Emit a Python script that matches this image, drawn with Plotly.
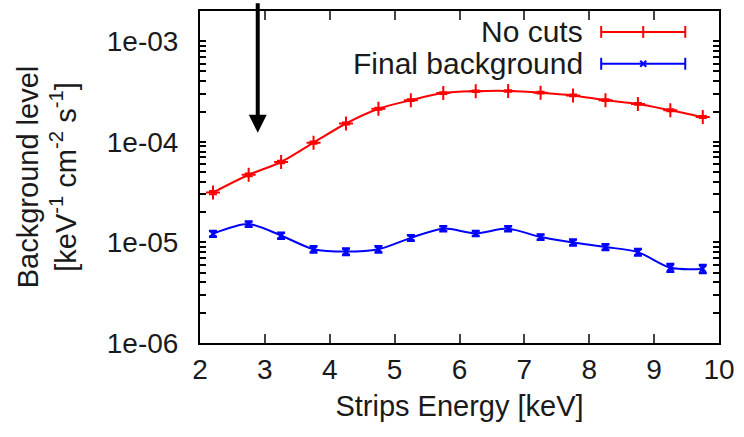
import plotly.graph_objects as go
import math

# ---------------- data ----------------
energy = [2.2, 2.75, 3.25, 3.75, 4.25, 4.75, 5.25, 5.75, 6.25, 6.75, 7.25, 7.75, 8.25, 8.75, 9.25, 9.75]
no_cuts = [3.13e-5, 4.7e-5, 6.3e-5, 9.8e-5, 1.52e-4, 2.13e-4, 2.59e-4, 3.05e-4, 3.18e-4, 3.2e-4,
           3.08e-4, 2.89e-4, 2.59e-4, 2.38e-4, 2.06e-4, 1.76e-4]
no_cuts_err = [1.2e-6, 1.5e-6, 1.8e-6, 2.5e-6, 3.5e-6, 4.5e-6, 5.0e-6, 6.0e-6, 6.0e-6, 6.0e-6,
               6.0e-6, 5.5e-6, 5.0e-6, 5.0e-6, 4.5e-6, 4.0e-6]
final_bg = [1.22e-5, 1.52e-5, 1.17e-5, 8.55e-6, 8.1e-6, 8.55e-6, 1.11e-5, 1.37e-5, 1.23e-5, 1.37e-5,
            1.13e-5, 1.0e-5, 9.0e-6, 8.0e-6, 5.6e-6, 5.45e-6]
final_bg_err = [0.8e-6, 0.9e-6, 0.8e-6, 0.6e-6, 0.6e-6, 0.6e-6, 0.7e-6, 0.8e-6, 0.7e-6, 0.8e-6,
                0.7e-6, 0.7e-6, 0.6e-6, 0.6e-6, 0.5e-6, 0.5e-6]

series_names = ["No cuts", "Final background"]
y_decades = [-6, -5, -4, -3]
y_decade_text = ["1e-06", "1e-05", "1e-04", "1e-03"]
x_tickvals = [2, 3, 4, 5, 6, 7, 8, 9, 10]

# all y ticks (decades labelled, 2..9 sub-ticks unlabelled)
y_tickvals, y_ticktext = [], []
for e, lab in zip(y_decades, y_decade_text):
    for m in range(1, 10):
        v = m * 10.0 ** e
        if v > 2.0e-3:
            break
        y_tickvals.append(v)
        y_ticktext.append(lab if m == 1 else "")

RED = "#ff0000"
BLUE = "#0000ff"
FONT = "Liberation Sans, Arial, sans-serif"
TXT = "#1a1a1a"
Y_RANGE = [-6, -2.70]

fig = go.Figure()
fig.add_trace(go.Scatter(
    x=energy, y=no_cuts, mode="lines+markers", name=series_names[0],
    line=dict(color=RED, width=2, shape="spline", smoothing=0.8),
    marker=dict(symbol="cross-thin", size=10, line=dict(color=RED, width=2)),
    error_y=dict(type="data", array=no_cuts_err, color=RED, thickness=2, width=4),
    showlegend=False,
))
fig.add_trace(go.Scatter(
    x=energy, y=final_bg, mode="lines+markers", name=series_names[1],
    line=dict(color=BLUE, width=2, shape="spline", smoothing=0.8),
    marker=dict(symbol="x-thin", size=6, line=dict(color=BLUE, width=2)),
    error_y=dict(type="data", array=final_bg_err, color=BLUE, thickness=2.5, width=4),
    showlegend=False,
))

# custom legend (text left, sample right, like gnuplot)
leg_text_x = 0.742
leg_x0, leg_x1 = 0.773, 0.935
leg_ys = [0.937, 0.841]
leg_cols = [RED, BLUE]
cap_h = 6 / 334
for name, yy, col in zip(series_names, leg_ys, leg_cols):
    fig.add_annotation(xref="paper", yref="paper", x=leg_text_x, y=yy, text=name,
                       showarrow=False, xanchor="right", yanchor="middle",
                       font=dict(family=FONT, size=30, color=TXT))
    fig.add_shape(type="line", xref="paper", yref="paper", x0=leg_x0, x1=leg_x1, y0=yy, y1=yy,
                  line=dict(color=col, width=2))
    for xx in (leg_x0, leg_x1):
        fig.add_shape(type="line", xref="paper", yref="paper", x0=xx, x1=xx,
                      y0=yy - cap_h, y1=yy + cap_h, line=dict(color=col, width=2))
xm = (leg_x0 + leg_x1) / 2
fig.add_shape(type="line", xref="paper", yref="paper", x0=xm, x1=xm,
              y0=leg_ys[0] - cap_h, y1=leg_ys[0] + cap_h, line=dict(color=RED, width=2))
dx, dy = 3 / 520, 3 / 334
fig.add_shape(type="line", xref="paper", yref="paper", x0=xm - dx, x1=xm + dx,
              y0=leg_ys[1] - dy, y1=leg_ys[1] + dy, line=dict(color=BLUE, width=2))
fig.add_shape(type="line", xref="paper", yref="paper", x0=xm - dx, x1=xm + dx,
              y0=leg_ys[1] + dy, y1=leg_ys[1] - dy, line=dict(color=BLUE, width=2))

# arrow
arrow_x = 2.89
arrow_tip = 1.23e-4
arrow_tail = 2.47e-3
fig.add_annotation(x=arrow_x, y=math.log10(arrow_tip), ax=arrow_x, ay=math.log10(arrow_tail),
                   xref="x", yref="y", axref="x", ayref="y", text="", showarrow=True,
                   arrowhead=2, arrowwidth=4, arrowsize=0.9, arrowcolor="black")

fig.update_layout(
    width=744, height=437, margin=dict(l=200, r=24, t=9, b=94),
    paper_bgcolor="white", plot_bgcolor="white",
    xaxis=dict(
        range=[2, 10], tickvals=x_tickvals, ticks="inside", ticklen=9, tickwidth=1.5,
        showline=True, linewidth=2, linecolor="black", mirror="allticks", showgrid=False,
        zeroline=False, tickfont=dict(family=FONT, size=28, color=TXT),
        title=dict(text="Strips Energy [keV]", font=dict(family=FONT, size=29, color=TXT), standoff=12),
    ),
    yaxis=dict(
        type="log", range=Y_RANGE, tickmode="array", tickvals=y_tickvals, ticktext=y_ticktext,
        ticks="inside", ticklen=6, tickwidth=1.5, tickcolor="black",
        showline=True, linewidth=2, linecolor="black", mirror="allticks", showgrid=False,
        tickfont=dict(family=FONT, size=28, color=TXT), ticklabelstandoff=14,
        title=dict(text="Background level<br>[keV<sup>-1</sup> cm<sup>-2</sup> s<sup>-1</sup>]",
                   font=dict(family=FONT, size=29, color=TXT), standoff=22),
    ),
)
fig.write_html("out.html")
